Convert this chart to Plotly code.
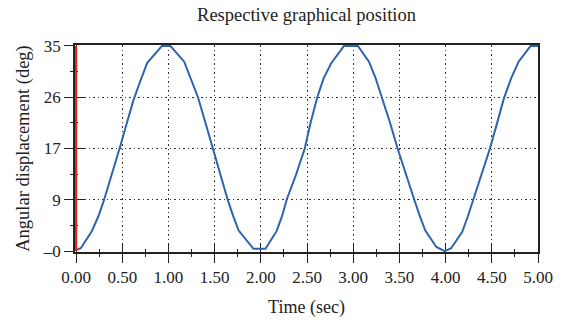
import plotly.graph_objects as go

# Data
time_s = [0.00, 0.05, 0.17, 0.24, 0.30, 0.36, 0.42, 0.48, 0.55, 0.62,
          0.69, 0.77, 0.93, 1.02, 1.17, 1.24, 1.32, 1.40, 1.48, 1.56,
          1.64, 1.70, 1.76, 1.92, 2.05, 2.17, 2.23, 2.28, 2.38, 2.475,
          2.54, 2.61, 2.68, 2.76, 2.90, 3.05, 3.17, 3.24, 3.31, 3.40,
          3.48, 3.57, 3.66, 3.72, 3.78, 3.90, 3.99, 4.06, 4.18, 4.24,
          4.30, 4.39, 4.48, 4.56, 4.63, 4.71, 4.79, 4.92, 5.00]
angle_deg = [0.2, 0.5, 3.4, 5.9, 8.6, 11.6, 14.8, 18.0, 21.9, 25.7,
             28.8, 32.1, 35.0, 35.0, 32.3, 29.6, 26.2, 21.9, 17.5, 13.0,
             8.8, 6.0, 3.5, 0.4, 0.4, 3.4, 6.0, 8.8, 13.0, 17.5,
             22.0, 26.2, 29.5, 32.0, 35.0, 35.0, 32.3, 29.6, 26.2, 21.8,
             17.5, 13.0, 8.8, 6.0, 3.5, 0.7, 0.0, 0.5, 3.3, 5.9,
             8.8, 13.2, 17.5, 22.0, 26.0, 29.5, 32.3, 35.0, 35.0]

marker_t = [0.0, 0.0]
marker_deg = [0.0, 35.0]

x_tickvals = [0.0, 0.5, 1.0, 1.5, 2.0, 2.5, 3.0, 3.5, 4.0, 4.5, 5.0]
x_ticktext = ["0.00", "0.50", "1.00", "1.50", "2.00", "2.50", "3.00", "3.50", "4.00", "4.50", "5.00"]
y_tickvals = [0.0, 8.75, 17.5, 26.25, 35.0]
y_ticktext = ["\u20130", "9", "17", "26", "35"]
y_minorvals = [4.375, 13.125, 21.875, 30.625]

FONT = "Liberation Serif"
INK = "#222222"
GRID = "#333333"
BLUE = "#2f63ad"
RED = "#e5231b"

fig = go.Figure()
fig.add_trace(go.Scatter(x=time_s, y=angle_deg, mode="lines",
                         line=dict(color=BLUE, width=2), showlegend=False,
                         hoverinfo="skip"))
fig.add_trace(go.Scatter(x=marker_t, y=marker_deg, mode="lines",
                         line=dict(color=RED, width=2.2), showlegend=False,
                         hoverinfo="skip"))
# invisible trace so that the overlay axes (inner tick halves) are drawn
fig.add_trace(go.Scatter(x=[time_s[0]], y=[angle_deg[0]], xaxis="x2", yaxis="y2",
                         mode="markers", marker=dict(opacity=0), showlegend=False,
                         hoverinfo="skip"))

xr = [-0.012, 5.0]
yr = [-0.15, 35.15]
DASH = "1.5px,3px"

fig.update_layout(
    width=565, height=326,
    margin=dict(l=75, r=22, t=45, b=66),
    paper_bgcolor="white", plot_bgcolor="white",
    font=dict(family=FONT, size=17, color=INK),
    title=dict(text="Respective graphical position", x=0.5, xref="paper",
               y=1 - 15 / 326, yref="container", xanchor="center", yanchor="middle",
               font=dict(family=FONT, size=18.5, color=INK)),
    xaxis=dict(range=xr, tickmode="array", tickvals=x_tickvals, ticktext=x_ticktext,
               ticks="outside", ticklen=9, tickwidth=1.4, tickcolor=INK,
               minor=dict(ticks="outside", ticklen=3, tickwidth=1.2, tickcolor=INK,
                          dtick=0.25, tick0=0, showgrid=False),
               showline=True, linecolor=INK, linewidth=1.5, mirror=True,
               showgrid=True, gridcolor=GRID, gridwidth=1, griddash=DASH,
               zeroline=False, layer="below traces",
               title=dict(text="Time (sec)", standoff=14,
                          font=dict(family=FONT, size=18, color=INK)),
               tickfont=dict(family=FONT, size=17, color=INK)),
    yaxis=dict(range=yr, tickmode="array", tickvals=y_tickvals, ticktext=y_ticktext,
               ticks="outside", ticklen=9, tickwidth=1.4, tickcolor=INK,
               minor=dict(ticks="outside", ticklen=3, tickwidth=1.2, tickcolor=INK,
                          tickvals=y_minorvals, showgrid=False),
               showline=True, linecolor=INK, linewidth=1.5, mirror=True,
               showgrid=True, gridcolor=GRID, gridwidth=1, griddash=DASH,
               zeroline=False, layer="below traces",
               title=dict(text="Angular displacement (deg)", standoff=8,
                          font=dict(family=FONT, size=18.5, color=INK)),
               tickfont=dict(family=FONT, size=17, color=INK)),
    xaxis2=dict(overlaying="x", matches="x", side="bottom", anchor="y2",
                tickmode="array", tickvals=x_tickvals, showticklabels=False,
                ticks="inside", ticklen=9, tickwidth=1.4, tickcolor=INK,
                minor=dict(ticks="inside", ticklen=3, tickwidth=1.2, tickcolor=INK,
                           dtick=0.25, tick0=0, showgrid=False),
                showgrid=False, zeroline=False, showline=False, layer="below traces"),
    yaxis2=dict(overlaying="y", matches="y", side="left", anchor="x2",
                tickmode="array", tickvals=y_tickvals, showticklabels=False,
                ticks="inside", ticklen=9, tickwidth=1.4, tickcolor=INK,
                minor=dict(ticks="inside", ticklen=3, tickwidth=1.2, tickcolor=INK,
                           tickvals=y_minorvals, showgrid=False),
                showgrid=False, zeroline=False, showline=False, layer="below traces"),
)

fig.write_html("out.html")
